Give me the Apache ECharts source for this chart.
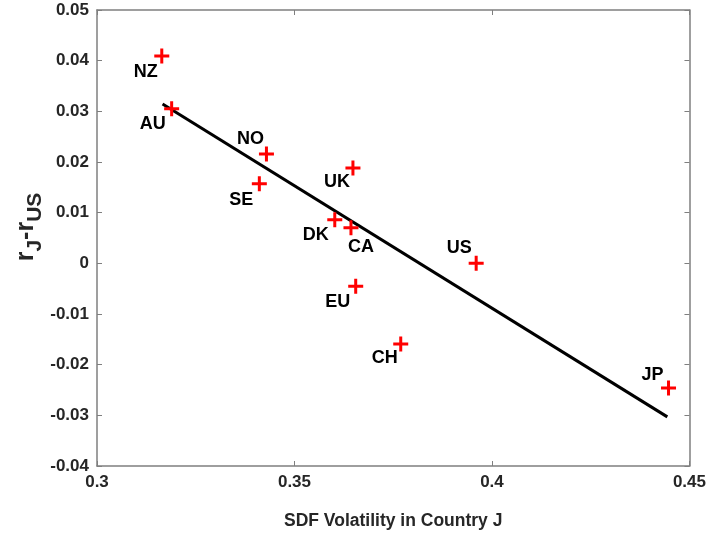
<!DOCTYPE html>
<html><head><meta charset="utf-8">
<script src="https://cdn.jsdelivr.net/npm/echarts@6/dist/echarts.min.js"></script>
<style>html,body{margin:0;padding:0;background:#fff}#c{width:709px;height:540px}</style>
</head><body><div id="c"></div>
<script>
const countries = ['NZ','AU','NO','SE','UK','DK','CA','US','EU','CH','JP'];
const sdfVol    = [0.3164,0.3189,0.3429,0.3411,0.3648,0.3602,0.3643,0.3960,0.3655,0.3769,0.4447];
const rateDiff  = [0.0409,0.0305,0.0216,0.0157,0.0188,0.0086,0.0070,0.0000,-0.0045,-0.0159,-0.0246];
const fitX = [0.3166, 0.4444];
const fitY = [0.03145, -0.0303];
const xTicks = [0.3,0.35,0.4,0.45];
const yTicks = [-0.04,-0.03,-0.02,-0.01,0,0.01,0.02,0.03,0.04,0.05];
// label placement (pixels relative to marker)
const labelOffset = {NZ:[-16,16],AU:[-19,15],NO:[-16,-15],SE:[-18,16],UK:[-16,14],DK:[-19,15],CA:[10,19],US:[-17,-15],EU:[-18,16],CH:[-16,14],JP:[-16,-13]};

const chart = echarts.init(document.getElementById('c'));
const axisCol = '#7f7f7f';
const txtCol = '#262626';
const font = 'Liberation Sans';
const plus = 'path://M4,0h2v4h4v2h-4v4h-2v-4h-4v-2h4z';
function fmt(v){ return String(+v.toFixed(2)); }
const common = {
  axisLine:{show:true,onZero:false,lineStyle:{color:axisCol,width:1.5}},
  axisTick:{show:true,inside:true,length:5,lineStyle:{color:axisCol,width:1}},
  splitLine:{show:false}
};
chart.setOption({
  animation:false,
  backgroundColor:'#fff',
  grid:{left:97,top:10,right:17,bottom:74,containLabel:false},
  xAxis:[
    Object.assign({type:'value',min:0.3,max:0.45,interval:0.05,position:'bottom',
      name:'SDF Volatility in Country J',nameLocation:'middle',nameGap:46,
      nameTextStyle:{fontFamily:font,fontWeight:'bold',fontSize:17.5,color:txtCol},
      axisLabel:{fontFamily:font,fontWeight:'bold',fontSize:17,color:txtCol,margin:8,
        formatter:fmt,showMinLabel:true,showMaxLabel:true}},common),
    Object.assign({type:'value',min:0.3,max:0.45,interval:0.05,position:'top',axisLabel:{show:false}},common)
  ],
  yAxis:[
    Object.assign({type:'value',min:-0.04,max:0.05,interval:0.01,position:'left',
      axisLabel:{fontFamily:font,fontWeight:'bold',fontSize:17,color:txtCol,margin:8,formatter:fmt}},common),
    Object.assign({type:'value',min:-0.04,max:0.05,interval:0.01,position:'right',axisLabel:{show:false}},common)
  ],
  graphic:[{
    type:'text',x:30,y:227,rotation:Math.PI/2,
    style:{
      text:'{a|r}{s|J}{a|-r}{s|US}',
      align:'center',verticalAlign:'middle',
      rich:{
        a:{fontFamily:font,fontWeight:'bold',fontSize:25,fill:txtCol,verticalAlign:'top',lineHeight:25},
        s:{fontFamily:font,fontWeight:'bold',fontSize:21,fill:txtCol,verticalAlign:'bottom',lineHeight:32}
      }
    }
  }],
  series:[
    {type:'line',data:fitX.map((x,i)=>[x,fitY[i]]),showSymbol:false,symbol:'none',
      lineStyle:{color:'#000',width:3},z:2,silent:true},
    {type:'scatter',symbol:plus,symbolSize:15,
      itemStyle:{color:'#ff0000',opacity:1},z:3,
      data:countries.map((c,i)=>({value:[sdfVol[i],rateDiff[i]],name:c,
        label:{show:true,position:'inside',offset:labelOffset[c],formatter:c,
          fontFamily:font,fontWeight:'bold',fontSize:18,color:'#000'}}))}
  ]
});
</script></body></html>
